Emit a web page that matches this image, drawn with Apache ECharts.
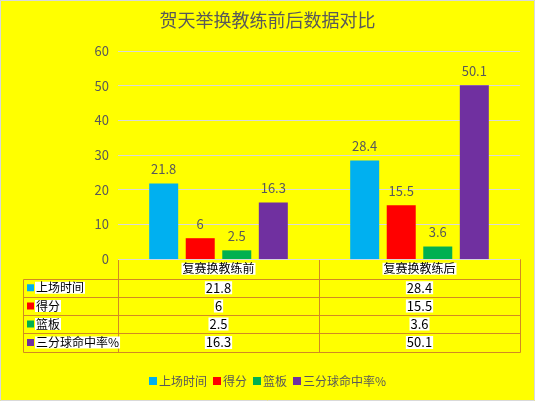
<!DOCTYPE html>
<html>
<head>
<meta charset="utf-8">
<script src="https://cdn.jsdelivr.net/npm/echarts@6/dist/echarts.min.js"></script>
<style>
html,body{margin:0;padding:0;background:#ffff00;}
#c{width:535px;height:401px;}
</style>
</head>
<body>
<div id="c"></div>
<script>
var categories = ['复赛换教练前', '复赛换教练后'];
var seriesNames = ['上场时间', '得分', '篮板', '三分球命中率%'];
var playTime = [21.8, 28.4];
var points = [6, 15.5];
var rebounds = [2.5, 3.6];
var threePct = [16.3, 50.1];
var yTicks = [0, 10, 20, 30, 40, 50, 60];

var seriesData = [playTime, points, rebounds, threePct];
var colors = ['#00b0f0', '#ff0000', '#00b050', '#7030a0'];
var FONT = '"Noto Sans CJK SC", "Noto Sans", sans-serif';

var gridLeft = 118, gridRight = 520, gridTop = 51, gridBottom = 259;
var labelLeft = 23;
var rowTops = [259, 278.5, 297, 315, 333, 352];
var lineColor = '#d28a22';

var chart = echarts.init(document.getElementById('c'));

var series = seriesNames.map(function (n, i) {
  return {
    name: n,
    type: 'bar',
    data: seriesData[i],
    barWidth: 29,
    barGap: '26%',
    itemStyle: { color: colors[i] },
    label: {
      show: true, position: 'top', distance: 8,
      color: '#595959', fontSize: 13, fontFamily: FONT
    }
  };
});

var graphic = [];
// outer border
graphic.push({ type: 'rect', shape: { x: 0.5, y: 0.5, width: 534, height: 400 },
  style: { fill: 'none', stroke: '#d9d9d9', lineWidth: 1 }, silent: true });

var colW = (gridRight - gridLeft) / categories.length;
var lines = [];
for (var r = 0; r < rowTops.length; r++) {
  var x1 = r === 0 ? gridLeft : labelLeft;
  lines.push([x1, rowTops[r], gridRight, rowTops[r]]);
}
lines.push([labelLeft, rowTops[1], labelLeft, rowTops[rowTops.length - 1]]);
for (var c = 0; c <= categories.length; c++) {
  var x = gridLeft + c * colW;
  lines.push([x, rowTops[0], x, rowTops[rowTops.length - 1]]);
}
lines.forEach(function (l) {
  graphic.push({ type: 'line', shape: { x1: Math.round(l[0]) + 0.5, y1: Math.round(l[1]) + 0.5, x2: Math.round(l[2]) + 0.5, y2: Math.round(l[3]) + 0.5 },
    style: { stroke: lineColor, lineWidth: 1 }, silent: true });
});

function cellText(txt, cx, cy, align, size) {
  return { type: 'text', x: cx, y: cy,
    style: { text: txt, fill: '#000', font: (size || 12) + 'px ' + FONT, align: align || 'center', verticalAlign: 'middle',
      backgroundColor: '#ffffff', padding: [0, 1, 0, 1] }, silent: true };
}
categories.forEach(function (cat, i) {
  graphic.push(cellText(cat, gridLeft + (i + 0.5) * colW, (rowTops[0] + rowTops[1]) / 2, 'center', 12));
});
seriesNames.forEach(function (n, s) {
  var cy = (rowTops[s + 1] + rowTops[s + 2]) / 2;
  graphic.push({ type: 'rect', shape: { x: labelLeft + 4, y: cy - 3.5, width: 7, height: 7 },
    style: { fill: colors[s] }, silent: true });
  graphic.push(cellText(n, labelLeft + 12, cy, 'left', 12));
  seriesData[s].forEach(function (v, i) {
    graphic.push(cellText(String(v), gridLeft + (i + 0.5) * colW, cy, 'center', 13));
  });
});

chart.setOption({
  backgroundColor: '#ffff00',
  animation: false,
  title: {
    text: '贺天举换教练前后数据对比',
    left: 'center', top: 11, padding: 0,
    textStyle: { color: '#595959', fontSize: 18, fontWeight: 'normal', fontFamily: FONT }
  },
  legend: {
    data: seriesNames,
    left: 'center', top: 370,
    itemWidth: 8, itemHeight: 8, itemGap: 6,
    icon: 'rect',
    textStyle: { color: '#595959', fontSize: 12, fontFamily: FONT, padding: [0, 0, 0, -3] }
  },
  grid: { left: gridLeft, right: 535 - gridRight, top: gridTop, bottom: 401 - gridBottom, containLabel: false },
  xAxis: {
    type: 'category', data: categories,
    axisLine: { show: false }, axisTick: { show: false }, axisLabel: { show: false }
  },
  yAxis: {
    type: 'value', min: yTicks[0], max: yTicks[yTicks.length - 1], interval: yTicks[1] - yTicks[0],
    axisLine: { show: false }, axisTick: { show: false },
    axisLabel: { color: '#595959', fontSize: 13, fontFamily: FONT, margin: 9 },
    splitLine: { lineStyle: { color: '#d9d9d9', width: 1 } }
  },
  series: series,
  graphic: graphic
});
</script>
</body>
</html>
